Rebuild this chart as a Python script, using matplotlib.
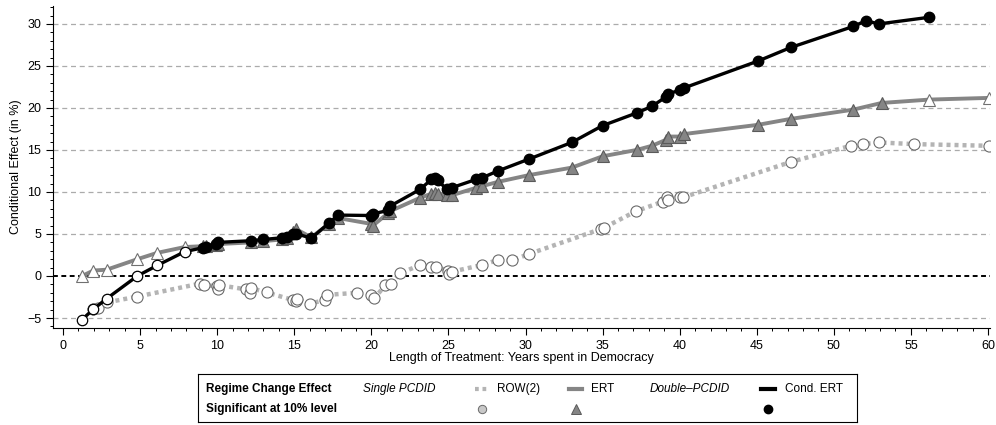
import numpy as np
import matplotlib
matplotlib.use('Agg')
import matplotlib.pyplot as plt
from matplotlib.lines import Line2D
from matplotlib.ticker import MultipleLocator

# ---------------------------------------------------------------------
# data
# ---------------------------------------------------------------------
cond_x = [1.23, 1.97, 2.83, 4.82, 6.1, 7.9, 9.05, 9.3, 9.9, 10.05, 12.2, 13.0, 14.2, 14.5,
          14.9, 15.1, 16.1, 17.25, 17.85, 20.0, 20.1, 21.1, 21.2, 23.15, 23.9, 24.1, 24.3,
          24.9, 25.2, 26.8, 27.2, 28.2, 30.2, 33.0, 35.0, 37.2, 38.2, 39.1, 39.25, 40.0,
          40.3, 45.1, 47.2, 51.25, 52.1, 52.9, 56.2]
cond_y = [-5.2, -3.95, -2.7, 0.0, 1.25, 2.9, 3.35, 3.5, 3.8, 4.0, 4.2, 4.35, 4.55, 4.7,
          5.0, 5.05, 4.5, 6.3, 7.25, 7.2, 7.4, 7.8, 8.3, 10.3, 11.5, 11.7, 11.4,
          10.3, 10.5, 11.5, 11.7, 12.5, 13.9, 15.9, 17.9, 19.4, 20.2, 21.3, 21.7, 22.1,
          22.4, 25.6, 27.2, 29.7, 30.4, 30.0, 30.8]
cond_sig = [x >= 9 for x in cond_x]

ert_x = [1.23, 1.97, 2.83, 4.82, 6.1, 7.9, 9.05, 9.3, 9.9, 10.05, 12.2, 13.0, 14.2, 14.5,
         14.9, 15.1, 16.1, 17.25, 17.85, 20.0, 20.1, 21.1, 21.2, 23.15, 23.9, 24.1, 24.3,
         24.9, 25.2, 26.8, 27.2, 28.2, 30.2, 33.0, 35.0, 37.2, 38.2, 39.1, 39.25, 40.0,
         40.3, 45.1, 47.2, 51.25, 53.1, 56.2, 60.05]
ert_y = [0.0, 0.65, 0.75, 2.0, 2.75, 3.45, 3.55, 3.6, 3.7, 3.8, 4.0, 4.15, 4.35, 4.5,
         5.2, 5.6, 4.6, 6.2, 6.9, 6.2, 6.0, 7.5, 7.7, 9.3, 9.8, 9.9, 9.8,
         9.6, 9.6, 10.5, 10.7, 11.2, 12.0, 12.9, 14.25, 15.0, 15.5, 16.2, 16.6, 16.6,
         16.9, 18.0, 18.7, 19.8, 20.6, 21.0, 21.2]
ert_sig = [9 <= x <= 54 for x in ert_x]

row_x = [1.97, 2.3, 2.83, 4.82, 8.9, 9.15, 10.0, 10.07, 10.15, 11.9, 12.1, 12.2, 13.2,
         14.9, 15.1, 15.15, 16.0, 17.0, 17.1, 19.05, 19.95, 20.2, 20.9, 21.25, 21.85,
         23.15, 23.85, 24.2, 25.0, 25.05, 25.2, 27.15, 28.2, 29.1, 30.2, 34.9, 35.1,
         37.15, 38.9, 39.15, 39.25, 40.0, 40.2, 47.25, 51.1, 51.9, 52.9, 55.2, 60.05]
row_y = [-3.95, -3.8, -3.15, -2.45, -0.9, -1.1, -1.2, -1.5, -1.1, -1.6, -2.05, -1.45, -1.95,
         -2.85, -3.0, -2.7, -3.3, -2.85, -2.25, -2.0, -2.25, -2.65, -1.1, -1.0, 0.3,
         1.3, 1.05, 1.1, 0.6, 0.25, 0.5, 1.3, 1.9, 1.85, 2.6, 5.6, 5.75,
         7.7, 8.85, 9.45, 9.1, 9.45, 9.35, 13.6, 15.5, 15.7, 15.9, 15.7, 15.5]

NARROW = ['Liberation Sans Narrow', 'DejaVu Sans Condensed', 'Liberation Sans', 'DejaVu Sans']
REGULAR = ['Liberation Sans', 'DejaVu Sans']
plt.rcParams['font.family'] = REGULAR

ROW_C = '#b4b4b4'
ERT_C = '#858585'

fig = plt.figure(figsize=(9.96, 4.25), dpi=100)
ax = fig.add_axes([53 / 996, 1 - 328 / 425, (990 - 53) / 996, (328 - 6) / 425])

# grid and zero line
for g in [-5, 5, 10, 15, 20, 25, 30]:
    ax.axhline(g, color='#ababab', lw=0.9, ls=(0, (4, 3)), zorder=0)
ax.axhline(0, color='black', lw=1.4, ls=(0, (2.5, 1.8)), zorder=0.5)

# ROW(2)
ax.plot(row_x, row_y, color=ROW_C, lw=3.2, ls=(0, (0.9, 0.9)), dash_capstyle='butt', zorder=1)
ax.plot(row_x, row_y, ls='none', marker='o', ms=8, mfc='white', mec='#6a6a6a', mew=0.8, zorder=1.5)

# ERT
ert_x = np.array(ert_x); ert_y = np.array(ert_y); ert_sig = np.array(ert_sig)
ax.plot(ert_x, ert_y, color=ERT_C, lw=2.8, zorder=2)
ax.plot(ert_x[~ert_sig], ert_y[~ert_sig], ls='none', marker='^', ms=9, mfc='white',
        mec='#707070', mew=0.8, zorder=2.5)
ax.plot(ert_x[ert_sig], ert_y[ert_sig], ls='none', marker='^', ms=9, mfc=ERT_C,
        mec='#5a5a5a', mew=0.8, zorder=2.5)

# Cond. ERT
cond_x = np.array(cond_x); cond_y = np.array(cond_y); cond_sig = np.array(cond_sig)
ax.plot(cond_x, cond_y, color='black', lw=2.4, zorder=3)
ax.plot(cond_x[~cond_sig], cond_y[~cond_sig], ls='none', marker='o', ms=7.5, mfc='white',
        mec='black', mew=0.9, zorder=3.5)
ax.plot(cond_x[cond_sig], cond_y[cond_sig], ls='none', marker='o', ms=7.5, mfc='black',
        mec='black', zorder=3.5)

ax.set_xlim(-0.65, 60.13)
ax.set_ylim(-6.19, 32.14)
ax.xaxis.set_major_locator(MultipleLocator(5))
ax.xaxis.set_minor_locator(MultipleLocator(1))
ax.yaxis.set_major_locator(MultipleLocator(5))
ax.yaxis.set_minor_locator(MultipleLocator(1))
ax.tick_params(which='major', length=5, width=0.8, labelsize=9, direction='out')
ax.tick_params(which='minor', length=2.5, width=0.7, direction='out')
for lab in ax.get_xticklabels():
    lab.set_family(NARROW)
for s in ['top', 'right']:
    ax.spines[s].set_visible(False)
ax.set_xlabel('Length of Treatment: Years spent in Democracy', fontsize=9,
              family=NARROW, labelpad=0)
ax.set_ylabel('Conditional Effect (in %)', fontsize=9, labelpad=4)

# custom legend box (pixel-like coordinates)
lg = fig.add_axes([198 / 996, 1 - 422 / 425, (857 - 198) / 996, (422 - 374) / 425])
lg.set_xlim(198, 857)
lg.set_ylim(422, 374)
lg.set_xticks([]); lg.set_yticks([])
for s in lg.spines.values():
    s.set_linewidth(0.8)
r1, r2 = 389, 409
kw = dict(fontsize=8.5, family=NARROW, va='center')
lg.text(206, r1, 'Regime Change Effect', fontweight='bold', **kw)
lg.text(206, r2, 'Significant at 10% level', fontweight='bold', **kw)
lg.text(363, r1, 'Single PCDID', style='italic', **kw)
lg.text(650, r1, 'Double\u2013PCDID', style='italic', **kw)
lg.text(497, r1, 'ROW(2)', **kw)
lg.text(591, r1, 'ERT', **kw)
lg.text(785, r1, 'Cond. ERT', **kw)
lg.add_line(Line2D([475, 488], [r1, r1], color=ROW_C, lw=3, ls=(0, (0.9, 0.9))))
lg.add_line(Line2D([569, 582], [r1, r1], color=ERT_C, lw=3))
lg.add_line(Line2D([761, 775], [r1, r1], color='black', lw=3))
lg.plot([482], [r2], marker='o', ms=6, mfc='#c8c8c8', mec='#6a6a6a', mew=0.7)
lg.plot([576], [r2], marker='^', ms=7, mfc=ERT_C, mec='#5a5a5a', mew=0.7)
lg.plot([768], [r2], marker='o', ms=6, mfc='black', mec='black')

fig.savefig('out.png', dpi=100)
